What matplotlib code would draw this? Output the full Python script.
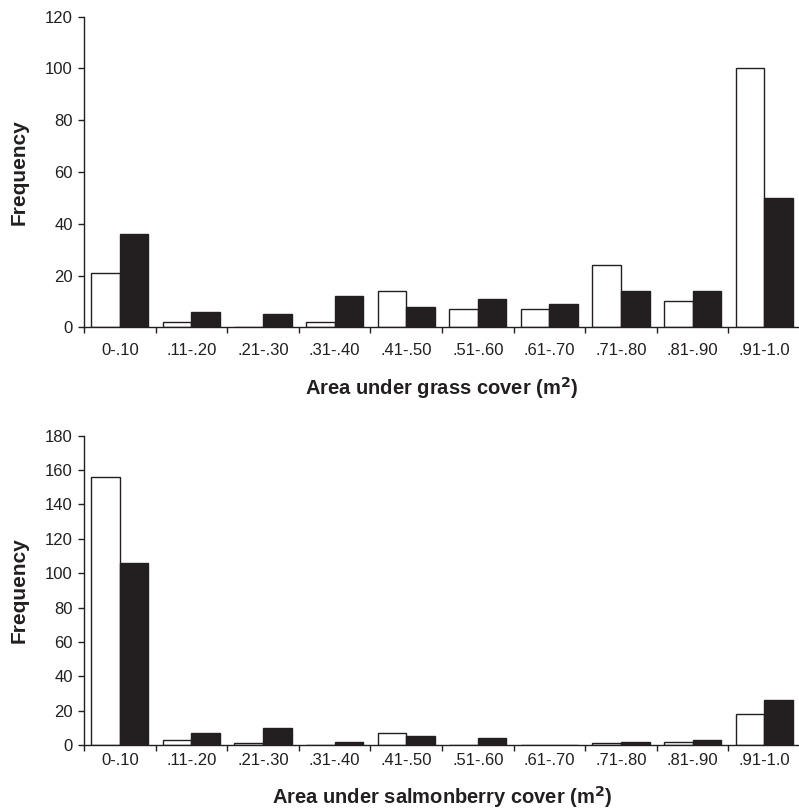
import numpy as np
import matplotlib
matplotlib.use("Agg")
import matplotlib.pyplot as plt

plt.rcParams["font.family"] = ["Liberation Sans", "DejaVu Sans"]

# Data
categories = ["0-.10", ".11-.20", ".21-.30", ".31-.40", ".41-.50",
              ".51-.60", ".61-.70", ".71-.80", ".81-.90", ".91-1.0"]

grass_white = [21, 2, 0, 2, 14, 7, 7, 24, 10, 100]
grass_black = [36, 6, 5, 12, 8, 11, 9, 14, 14, 50]

salmon_white = [156, 3, 1, 0, 7, 0, 0, 1, 2, 18]
salmon_black = [106, 7, 10, 2, 5, 4, 0, 2, 3, 26]

INK = "#231f20"
W, H = 799, 811


def draw_panel(ax, white, black, ymax, ystep, xlabel, xpad, xlab_y):
    x = np.arange(len(categories)) + 0.5
    bw = 0.4
    ax.bar(x - bw / 2, white, width=bw, color="white", edgecolor=INK, linewidth=1.0)
    ax.bar(x + bw / 2, black, width=bw, color=INK, edgecolor=INK, linewidth=1.0)

    ax.set_xlim(0, len(categories))
    ax.set_ylim(0, ymax)
    ax.set_yticks(np.arange(0, ymax + 1, ystep))

    # ticks at bin edges, labels at bin centres
    ax.set_xticks(np.arange(0, len(categories)))
    ax.set_xticklabels([])
    ax.set_xticks(x, minor=True)
    ax.set_xticklabels(categories, minor=True)
    ax.tick_params(axis="x", which="major", length=4, width=1, color=INK, direction="out")
    ax.tick_params(axis="x", which="minor", length=0, pad=xpad, labelsize=12, labelcolor=INK)
    ax.tick_params(axis="y", length=4, width=1, color=INK, labelsize=12, labelcolor=INK, pad=4)

    for s in ["top", "right"]:
        ax.spines[s].set_visible(False)
    for s in ["left", "bottom"]:
        ax.spines[s].set_color(INK)
        ax.spines[s].set_linewidth(1.0)

    ax.set_ylabel("Frequency", fontsize=15, fontweight="bold", color=INK)
    ax.yaxis.set_label_coords(-0.077, 0.5)
    ax.set_xlabel(xlabel, fontsize=14.5, fontweight="bold", color=INK)
    ax.xaxis.set_label_coords(0.5, xlab_y)


fig = plt.figure(figsize=(W / 100, H / 100), dpi=100)

ax1 = fig.add_axes([84 / W, 1 - 327.3 / H, 716 / W, 310.6 / H])
draw_panel(ax1, grass_white, grass_black, 120, 20,
           "Area under grass cover (m$^\\mathbf{2}$)", 11, -0.155)

ax2 = fig.add_axes([84 / W, 1 - 745 / H, 716 / W, 309.3 / H])
draw_panel(ax2, salmon_white, salmon_black, 180, 20,
           "Area under salmonberry cover (m$^\\mathbf{2}$)", 6, -0.127)

fig.savefig("out.png", dpi=100)
